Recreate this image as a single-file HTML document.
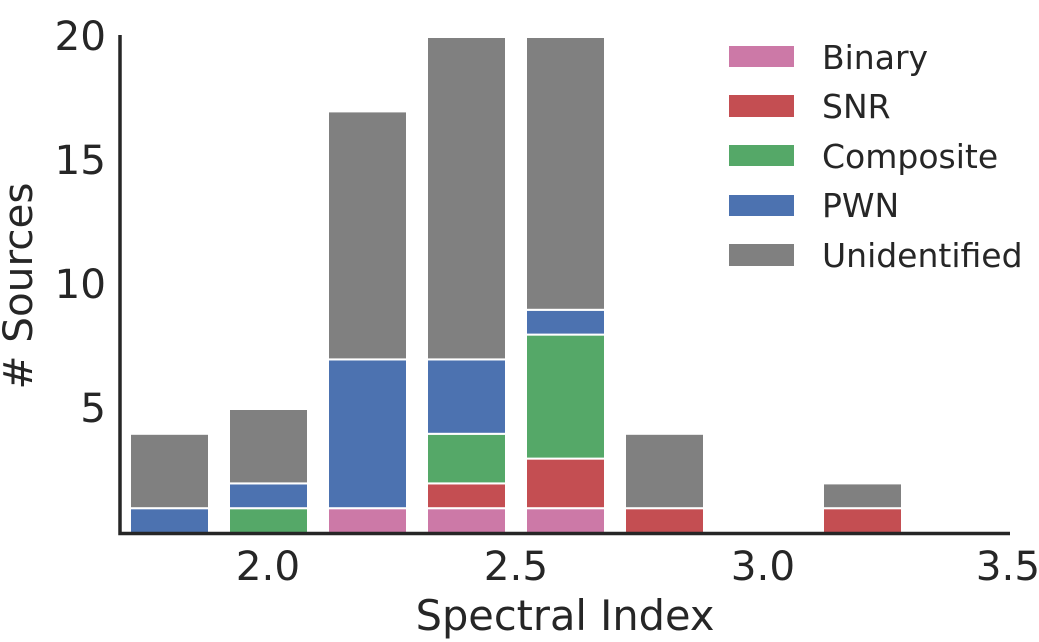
<!DOCTYPE html>
<html><head><style>body{margin:0;background:#fff}svg{display:block}text{font-family:"DejaVu Sans","Liberation Sans",sans-serif;fill:#262626}</style></head>
<body>
<svg width="1039" height="642" viewBox="0 0 1039 642">
<g stroke="#fff" stroke-width="2">
<rect x="130" y="508.2" width="79" height="24.8" fill="#4C72B0"/>
<rect x="130" y="433.8" width="79" height="74.4" fill="#808080"/>
<rect x="229" y="508.2" width="79" height="24.8" fill="#55A868"/>
<rect x="229" y="483.4" width="79" height="24.8" fill="#4C72B0"/>
<rect x="229" y="409" width="79" height="74.4" fill="#808080"/>
<rect x="328" y="508.2" width="79" height="24.8" fill="#CC79A7"/>
<rect x="328" y="359.4" width="79" height="148.8" fill="#4C72B0"/>
<rect x="328" y="111.4" width="79" height="248" fill="#808080"/>
<rect x="427" y="508.2" width="79" height="24.8" fill="#CC79A7"/>
<rect x="427" y="483.4" width="79" height="24.8" fill="#C44E52"/>
<rect x="427" y="433.8" width="79" height="49.6" fill="#55A868"/>
<rect x="427" y="359.4" width="79" height="74.4" fill="#4C72B0"/>
<rect x="427" y="37" width="79" height="322.4" fill="#808080"/>
<rect x="526" y="508.2" width="79" height="24.8" fill="#CC79A7"/>
<rect x="526" y="458.6" width="79" height="49.6" fill="#C44E52"/>
<rect x="526" y="334.6" width="79" height="124" fill="#55A868"/>
<rect x="526" y="309.8" width="79" height="24.8" fill="#4C72B0"/>
<rect x="526" y="37" width="79" height="272.8" fill="#808080"/>
<rect x="625" y="508.2" width="79" height="24.8" fill="#C44E52"/>
<rect x="625" y="433.8" width="79" height="74.4" fill="#808080"/>
<rect x="823" y="508.2" width="79" height="24.8" fill="#C44E52"/>
<rect x="823" y="483.4" width="79" height="24.8" fill="#808080"/>
</g>
<path d="M120 35 V533.5 H1010" fill="none" stroke="#262626" stroke-width="3.5"/>
<g font-size="40.5" text-anchor="end">
<text x="106" y="50">20</text>
<text x="106" y="174">15</text>
<text x="106" y="298">10</text>
<text x="106" y="422">5</text>
</g>
<g font-size="40.5" text-anchor="middle">
<text x="268" y="580">2.0</text>
<text x="516" y="580">2.5</text>
<text x="763" y="580">3.0</text>
<text x="1008" y="580">3.5</text>
<text x="565" y="630" font-size="41.5">Spectral Index</text>
<text transform="translate(32,286) rotate(-90)">
# Sources</text>
</g>
<g>
<rect x="729" y="46" width="65" height="21" fill="#CC79A7"/>
<rect x="729" y="95" width="65" height="22" fill="#C44E52"/>
<rect x="729" y="145" width="65" height="21" fill="#55A868"/>
<rect x="729" y="195" width="65" height="21" fill="#4C72B0"/>
<rect x="729" y="244" width="65" height="22" fill="#808080"/>
</g>
<g font-size="33">
<text x="822" y="69">Binary</text>
<text x="822" y="118">SNR</text>
<text x="822" y="168">Composite</text>
<text x="822" y="217">PWN</text>
<text x="822" y="267">Unidentified</text>
</g>
</svg>
</body></html>
